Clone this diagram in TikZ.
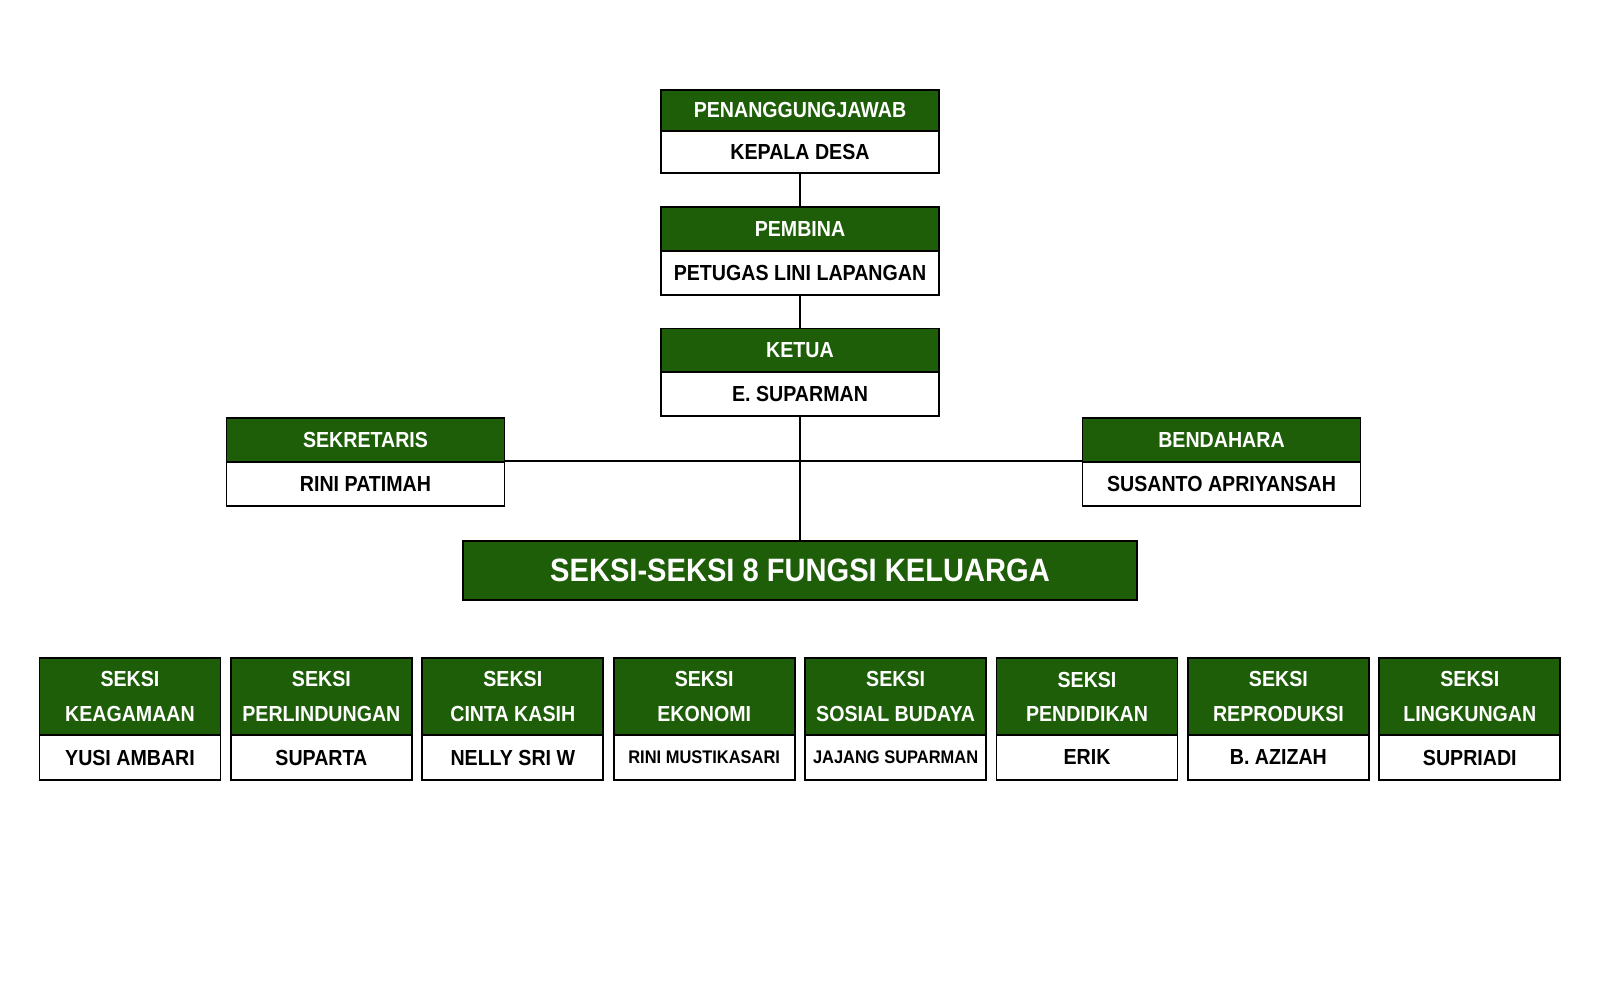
\documentclass[tikz,border=0pt]{standalone}
\usepackage{fontspec}
\setmainfont[FakeStretch=0.9]{Liberation Sans}
\definecolor{leafgreen}{HTML}{1F5E09}
\begin{document}
\begin{tikzpicture}
\tikzstyle{every node}=[draw=black,line width=0.5pt,font=\fontsize{6.2}{9.7}\selectfont\bfseries,inner sep=0pt];
\tikzstyle{headbox}=[fill=leafgreen,text=white,minimum width=2.78cm,minimum height=0.44cm];
\tikzstyle{namebox}=[fill=white,text=black,minimum width=2.78cm,minimum height=0.44cm];
\tikzstyle{seksihead}=[fill=leafgreen,text=white,align=center,minimum width=1.81cm,minimum height=0.77cm];
\tikzstyle{seksiname}=[fill=white,text=black,minimum width=1.81cm,minimum height=0.45cm];
\useasboundingbox (0,0) rectangle (16,-10);
% pimpinan
\path (8,-1.105) node[headbox,minimum height=0.41cm] (pj) {PENANGGUNGJAWAB};
\path (8,-1.52) node[namebox,minimum height=0.42cm] (kades) {KEPALA DESA};
\path (8,-2.29) node[headbox] (pembina) {PEMBINA};
\path (8,-2.73) node[namebox] (plkb) {PETUGAS LINI LAPANGAN};
\path (8,-3.505) node[headbox] (ketua) {KETUA};
\path (8,-3.94) node[namebox] (suparman) {E. SUPARMAN};
\path (3.655,-4.40) node[headbox] (sekr) {SEKRETARIS};
\path (3.655,-4.84) node[namebox] (rini) {RINI PATIMAH};
\path (12.215,-4.40) node[headbox] (bend) {BENDAHARA};
\path (12.215,-4.84) node[namebox] (susanto) {SUSANTO APRIYANSAH};
\path (8,-5.705) node[fill=leafgreen,text=white,minimum width=6.74cm,minimum height=0.59cm,font=\fontsize{9.2}{11}\selectfont\bfseries] (fungsi) {SEKSI-SEKSI 8 FUNGSI KELUARGA};
% seksi
\path (1.300,-6.965) node[seksihead] (s1) {SEKSI\\KEAGAMAAN};
\path (1.300,-7.575) node[seksiname] (n1) {YUSI AMBARI};
\path (3.214,-6.965) node[seksihead] (s2) {SEKSI\\PERLINDUNGAN};
\path (3.214,-7.575) node[seksiname] (n2) {SUPARTA};
\path (5.128,-6.965) node[seksihead] (s3) {SEKSI\\CINTA KASIH};
\path (5.128,-7.575) node[seksiname] (n3) {NELLY SRI W};
\path (7.042,-6.965) node[seksihead] (s4) {SEKSI\\EKONOMI};
\path (7.042,-7.575) node[seksiname,font=\fontsize{5.2}{6}\selectfont\bfseries] (n4) {RINI MUSTIKASARI};
\path (8.956,-6.965) node[seksihead] (s5) {SEKSI\\SOSIAL BUDAYA};
\path (8.956,-7.575) node[seksiname,font=\fontsize{5.2}{6}\selectfont\bfseries] (n5) {JAJANG SUPARMAN};
\path (10.870,-6.965) node[seksihead] (s6) {SEKSI\\PENDIDIKAN};
\path (10.870,-7.575) node[seksiname] (n6) {ERIK};
\path (12.784,-6.965) node[seksihead] (s7) {SEKSI\\REPRODUKSI};
\path (12.784,-7.575) node[seksiname] (n7) {B. AZIZAH};
\path (14.698,-6.965) node[seksihead] (s8) {SEKSI\\LINGKUNGAN};
\path (14.698,-7.575) node[seksiname] (n8) {SUPRIADI};
\draw[line width=0.5pt] (kades) -- (pembina)
(plkb) -- (ketua)
(suparman) -- (fungsi)
(rini.north east) -- (susanto.north west);
\end{tikzpicture}
\end{document}
